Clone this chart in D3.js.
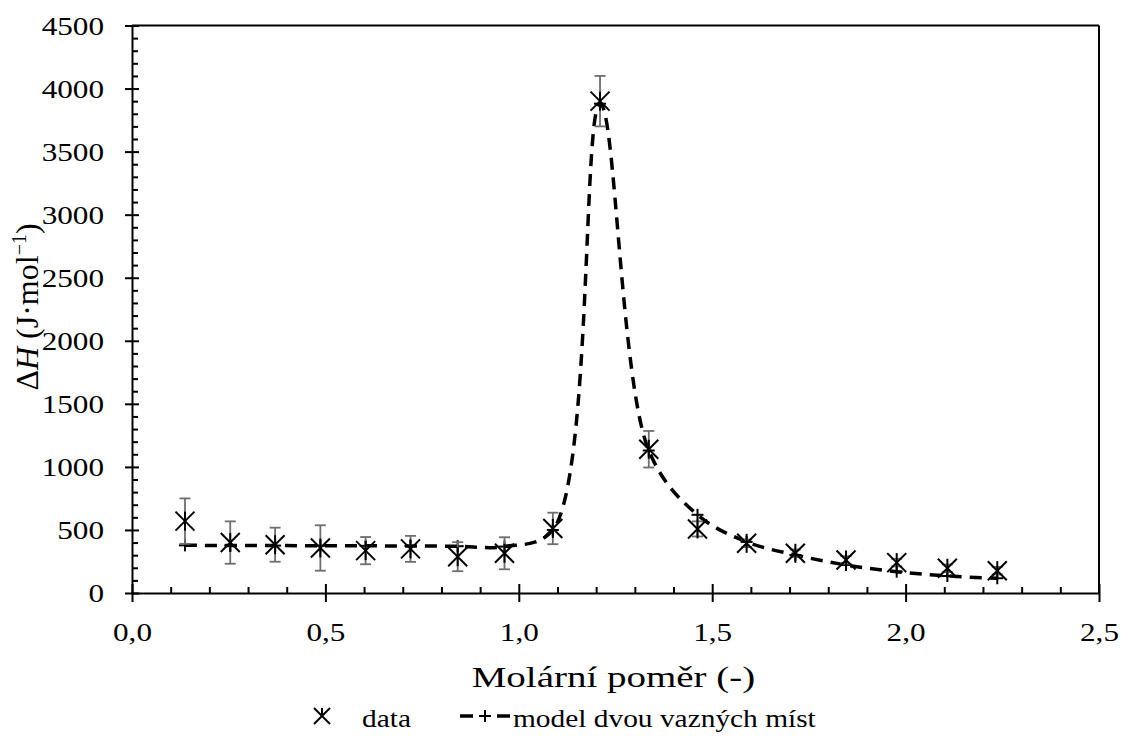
<!DOCTYPE html>
<html><head><meta charset="utf-8">
<script src="https://cdn.jsdelivr.net/npm/d3@7"></script>
<style>
body{margin:0;background:#fff;}
svg text{font-family:"Liberation Serif","Times New Roman",serif;fill:#000;}
</style></head>
<body><svg id="c" width="1122" height="736"></svg>
<script>
const xVals   = [0.137, 0.254, 0.370, 0.487, 0.604, 0.720, 0.842, 0.963, 1.088, 1.210, 1.336, 1.462, 1.589, 1.715, 1.846, 1.977, 2.108, 2.237];
const dataY   = [570, 400, 383, 357, 336, 350, 288, 315, 512, 3900, 1140, 508, 394, 315, 262, 241, 196, 177];
const dataErr = [180, 168, 135, 180, 108, 103, 115, 127, 125, 200, 145, 60, 30, 30, 30, 30, 30, 30];
const modelY  = [378, 377, 376, 375, 374, 373, 371, 368, 500, 3880, 1130, 620, 405, 302, 222, 169, 135, 117];
const xMajor = [0, 0.5, 1.0, 1.5, 2.0, 2.5];
const yMajor = [0, 500, 1000, 1500, 2000, 2500, 3000, 3500, 4000, 4500];
const xTitle = "Molární poměr (-)";
const legendLabels = ["data", "model dvou vazných míst"];

const svg = d3.select("#c");
const L = 132, R = 1099, T = 25.5, B = 593;
const SX = 1.2;
const x = d3.scaleLinear().domain([0, 2.5]).range([L, R]);
const y = d3.scaleLinear().domain([0, 4500]).range([B, T]);
const fmtX = v => d3.format(".1f")(v).replace(".", ",");
const fmtY = d3.format("d");

// frame top & right
svg.append("line").attr("x1", L).attr("x2", R).attr("y1", T).attr("y2", T).attr("stroke", "#000").attr("stroke-width", 2);
svg.append("line").attr("x1", R).attr("x2", R).attr("y1", T).attr("y2", B).attr("stroke", "#000").attr("stroke-width", 2);

// minor ticks
const yMinor = d3.range(0, 4501, 100).filter(v => v % 500 !== 0);
const xMinor = d3.range(1, 25).map(i => i / 10).filter(v => Math.round(v * 10) % 5 !== 0);
svg.append("g").attr("transform", `translate(${L},0)`)
  .call(d3.axisLeft(y).tickValues(yMinor).tickSize(-6).tickFormat(""))
  .call(g => g.select(".domain").remove())
  .selectAll("line").attr("stroke", "#000").attr("stroke-width", 2);
svg.append("g").attr("transform", `translate(0,${B})`)
  .call(d3.axisBottom(x).tickValues(xMinor).tickSize(-6).tickFormat(""))
  .call(g => g.select(".domain").remove())
  .selectAll("line").attr("stroke", "#000").attr("stroke-width", 2);

// major y axis
const gy = svg.append("g").attr("transform", `translate(${L},0)`)
  .call(d3.axisLeft(y).tickValues(yMajor).tickSize(7).tickSizeOuter(0).tickFormat(fmtY));
gy.select(".domain").attr("stroke", "#000").attr("stroke-width", 2);
gy.selectAll(".tick line").attr("x1", -7).attr("x2", 7).attr("stroke", "#000").attr("stroke-width", 2);
gy.selectAll(".tick text").attr("font-size", 26).attr("font-family", "Liberation Serif")
  .attr("x", -28 / SX).attr("dy", "0.34em").attr("transform", `scale(${SX},1)`);

// major x axis
const gx = svg.append("g").attr("transform", `translate(0,${B})`)
  .call(d3.axisBottom(x).tickValues(xMajor).tickSize(9).tickSizeOuter(0).tickFormat(fmtX));
gx.select(".domain").attr("stroke", "#000").attr("stroke-width", 2);
gx.selectAll(".tick line").attr("y1", -9).attr("y2", 9).attr("stroke", "#000").attr("stroke-width", 2);
gx.selectAll(".tick text").attr("font-size", 26).attr("font-family", "Liberation Serif")
  .attr("y", 48).attr("dy", 0).attr("transform", `scale(${SX},1)`);

// model line
const pts = xVals.map((v, i) => [x(v), y(modelY[i])]);
svg.append("path").attr("d", d3.line().curve(d3.curveCatmullRom.alpha(0.5))(pts))
  .attr("fill", "none").attr("stroke", "#000").attr("stroke-width", 3.5)
  .attr("stroke-dasharray", "12,8");

// model + markers
const plus = (g, cx, cy, s) => {
  g.append("line").attr("x1", cx - s).attr("x2", cx + s).attr("y1", cy).attr("y2", cy);
  g.append("line").attr("x1", cx).attr("x2", cx).attr("y1", cy - s).attr("y2", cy + s);
};
const gm = svg.append("g").attr("stroke", "#000").attr("stroke-width", 2);
xVals.forEach((v, i) => plus(gm, x(v), y(modelY[i]), 6));

// error bars
const ge = svg.append("g").attr("stroke", "#6e6e6e").attr("stroke-width", 1.8);
xVals.forEach((v, i) => {
  const cx = x(v), y1 = y(dataY[i] + dataErr[i]), y0 = y(dataY[i] - dataErr[i]);
  ge.append("line").attr("x1", cx).attr("x2", cx).attr("y1", y1).attr("y2", y0);
  ge.append("line").attr("x1", cx - 5.5).attr("x2", cx + 5.5).attr("y1", y1).attr("y2", y1);
  ge.append("line").attr("x1", cx - 5.5).attr("x2", cx + 5.5).attr("y1", y0).attr("y2", y0);
});

// data star markers
const star = (g, cx, cy, s) => {
  g.append("line").attr("x1", cx - s).attr("x2", cx + s).attr("y1", cy - s).attr("y2", cy + s);
  g.append("line").attr("x1", cx - s).attr("x2", cx + s).attr("y1", cy + s).attr("y2", cy - s);
  g.append("line").attr("x1", cx).attr("x2", cx).attr("y1", cy - s).attr("y2", cy + s);
};
const gd = svg.append("g").attr("stroke", "#000").attr("stroke-width", 2);
xVals.forEach((v, i) => star(gd, x(v), y(dataY[i]), 9.5));

// axis titles
const SXT = 1.3;
svg.append("text").attr("x", 613.5 / SXT).attr("y", 687).attr("text-anchor", "middle")
  .attr("font-size", 30).attr("transform", `scale(${SXT},1)`).text(xTitle);

const yt = svg.append("text").attr("transform", `translate(38,307) rotate(-90)`)
  .attr("text-anchor", "middle").attr("font-size", 32);
yt.append("tspan").text("Δ");
yt.append("tspan").attr("font-style", "italic").text("H");
yt.append("tspan").text(" (J·mol");
yt.append("tspan").attr("font-size", 20).attr("dy", -12).text("−1");
yt.append("tspan").attr("dy", 12).text(")");

// legend
const lg = svg.append("g");
const lgStar = lg.append("g").attr("stroke", "#000").attr("stroke-width", 2);
lgStar.append("line").attr("x1", 314).attr("x2", 330).attr("y1", 708).attr("y2", 724);
lgStar.append("line").attr("x1", 314).attr("x2", 330).attr("y1", 724).attr("y2", 708);
lgStar.append("line").attr("x1", 322).attr("x2", 322).attr("y1", 708).attr("y2", 716);
lg.append("text").attr("x", 362 / SX).attr("y", 727).attr("font-size", 24.5)
  .attr("transform", `scale(${SX},1)`).text(legendLabels[0]);
const lgl = lg.append("g").attr("stroke", "#000").attr("stroke-width", 3.5);
lgl.append("line").attr("x1", 460).attr("x2", 473).attr("y1", 716).attr("y2", 716);
lgl.append("line").attr("x1", 497).attr("x2", 510).attr("y1", 716).attr("y2", 716);
const lgp = lg.append("g").attr("stroke", "#000").attr("stroke-width", 2);
plus(lgp, 485, 716, 6);
lg.append("text").attr("x", 513 / SX).attr("y", 727).attr("font-size", 24.5)
  .attr("transform", `scale(${SX},1)`).text(legendLabels[1]);
</script></body></html>
